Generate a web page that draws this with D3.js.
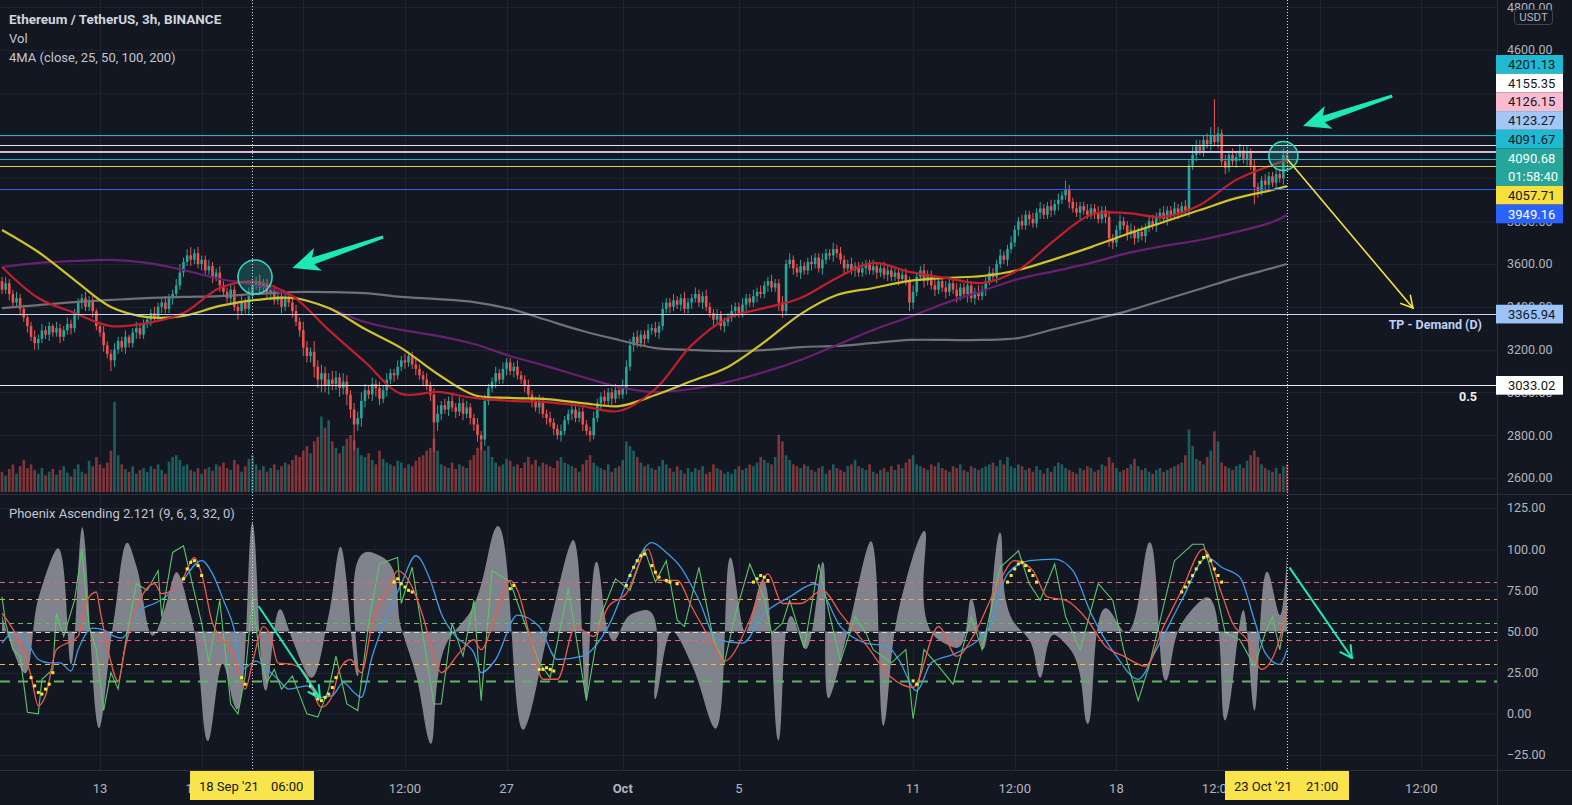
<!DOCTYPE html>
<html>
<head>
<meta charset="utf-8">
<script src="https://cdn.jsdelivr.net/npm/d3@7"></script>
<style>
body { margin: 0; background: #131722; }
text { font-family: Roboto, "Noto Sans", sans-serif; }
</style>
</head>
<body>
<svg width="1572" height="805"></svg>
<script>
// ---- data (3h candles, first bar 9 Sep 2021 15:00 UTC) ----
var startTime = "2021-09-09T15:00";
var firstOpen = 3520;
var closes = [
3480,3510,3460,3420,3440,3390,3350,3310,3260,3230,
3250,3290,3270,3310,3280,3300,3260,3290,3320,3300,
3360,3420,3440,3400,3430,3380,3310,3280,3220,3180,
3150,3200,3240,3210,3260,3230,3280,3300,3270,3320,
3340,3370,3350,3400,3420,3390,3440,3460,3500,3560,
3610,3640,3620,3650,3600,3620,3570,3590,3540,3560,
3500,3470,3440,3480,3400,3380,3420,3390,3450,3500,
3520,3490,3510,3460,3480,3430,3450,3400,3440,3420,
3380,3330,3290,3210,3170,3190,3120,3060,3090,3030,
3060,3040,3070,3020,3050,2990,2920,2850,2880,2960,
3010,2990,3040,3020,2970,3010,3060,3090,3080,3120,
3150,3140,3170,3130,3110,3080,3060,3030,2990,2860,
2900,2940,2920,2960,2930,2910,2950,2900,2930,2880,
2850,2800,2780,2960,3020,3050,3090,3060,3110,3140,
3100,3120,3080,3060,3030,2990,2960,2930,2960,2900,
2880,2860,2830,2800,2820,2870,2900,2920,2880,2910,
2850,2820,2800,2880,2950,2980,2960,3000,2970,3010,
2990,3020,3120,3220,3260,3230,3270,3250,3290,3300,
3280,3310,3390,3420,3400,3430,3410,3440,3390,3420,
3440,3460,3420,3450,3400,3370,3340,3360,3310,3330,
3350,3380,3400,3370,3410,3440,3420,3450,3470,3460,
3500,3520,3490,3510,3420,3380,3600,3620,3580,3560,
3590,3570,3610,3600,3630,3580,3620,3650,3640,3670,
3650,3620,3580,3600,3570,3590,3560,3580,3600,3570,
3590,3560,3580,3550,3570,3540,3560,3530,3550,3520,
3420,3470,3540,3570,3520,3550,3500,3480,3520,3490,
3470,3510,3480,3450,3490,3460,3500,3440,3470,3450,
3480,3520,3560,3540,3600,3640,3620,3670,3700,3760,
3800,3780,3830,3810,3790,3840,3860,3830,3870,3850,
3880,3900,3920,3950,3890,3860,3840,3870,3850,3830,
3860,3840,3810,3850,3820,3720,3700,3760,3800,3780,
3740,3760,3720,3750,3730,3770,3800,3780,3820,3840,
3810,3850,3830,3860,3840,3870,3850,4060,4110,4150,
4130,4180,4160,4200,4170,4210,4080,4050,4110,4080,
4100,4130,4090,4120,4060,3960,3940,3990,3970,4010,
3980,4020,4000,4110,4090];
// upper / lower wick length, in tens of USDT
var hiW = [
2,3,2,2,3,2,2,1,2,3, 2,3,2,2,1,3,2,2,3,2, 3,2,2,3,2,2,1,2,3,2, 2,3,2,2,3,1,2,3,2,2,
2,2,3,2,2,3,2,2,3,4, 2,3,4,2,3,2,2,3,2,2, 3,2,2,3,2,2,3,2,4,3, 2,3,2,2,3,2,2,3,2,2,
2,3,2,4,3,2,5,3,4,3, 3,4,3,2,4,3,2,3,3,4, 3,2,3,2,3,2,3,2,2,3, 2,3,2,2,3,2,2,3,2,3,
4,2,3,2,3,2,3,2,3,2, 2,3,2,3,2,2,3,2,3,2, 2,2,3,2,2,3,2,2,3,2, 2,3,2,2,3,2,2,3,2,2,
3,2,2,3,2,2,3,2,2,3, 2,4,3,3,2,3,2,2,3,2, 3,2,3,2,2,3,2,2,3,2, 2,3,2,2,3,2,2,3,2,2,
2,3,2,2,3,2,2,3,2,3, 2,2,3,2,2,3,2,3,2,2, 3,2,2,3,2,2,3,2,2,3, 2,3,2,2,3,2,2,3,2,2,
3,2,2,3,2,2,3,2,2,3, 2,3,2,2,3,2,2,3,2,2, 3,2,2,3,2,2,3,2,2,3, 2,2,3,2,2,3,2,2,3,2,
2,3,2,2,3,2,3,2,2,3, 2,3,2,4,2,2,3,2,2,3, 2,2,3,2,2,3,2,2,3,2, 2,3,2,2,3,2,2,3,2,2,
3,2,2,3,2,2,3,3,4,3, 3,2,3,4,17,3,2,3,2,3, 2,3,2,3,2,3,2,2,3,2, 2,3,2,3,2];
var loW = [
2,2,3,2,2,3,2,3,2,3, 3,2,2,3,2,2,3,2,2,3, 2,2,3,2,2,3,2,2,3,2, 5,3,2,2,3,2,2,3,2,2,
2,3,2,2,3,2,2,3,2,2, 2,2,3,2,2,3,2,2,3,2, 3,2,2,3,2,4,2,2,3,2, 2,3,2,2,3,2,2,3,2,2,
3,2,3,4,3,3,5,4,6,3, 4,3,3,4,3,5,4,12,3,4, 3,2,3,4,3,2,3,2,3,2, 2,3,2,2,3,2,3,2,3,14,
4,3,2,3,2,3,2,3,2,3, 3,3,5,3,2,2,3,2,2,3, 2,3,2,2,3,2,3,2,3,2, 3,2,3,2,3,2,2,3,2,2,
3,2,3,2,2,3,2,2,3,2, 2,2,3,2,3,2,2,3,2,2, 2,3,2,2,3,2,2,3,2,2, 3,2,2,3,2,2,3,2,2,3,
2,2,3,2,2,3,2,2,3,2, 2,3,2,2,4,3,2,2,3,2, 3,2,2,3,2,2,3,2,2,3, 2,2,3,2,2,3,2,2,3,2,
2,3,2,2,3,2,2,3,2,2, 4,3,2,2,3,2,2,3,2,2, 3,2,2,3,2,2,4,2,3,2, 2,3,2,2,3,2,2,3,2,2,
3,2,2,3,2,2,3,2,2,3, 2,3,2,2,3,2,2,3,2,2, 2,3,2,2,3,4,3,2,3,2, 3,2,3,2,2,3,2,2,3,2,
2,3,2,2,3,2,2,3,2,3, 2,3,2,3,2,3,2,3,2,2, 3,2,2,3,2,8,3,2,3,2, 2,3,2,3,2];
var vols = [
22,18,25,30,20,28,35,26,30,24, 20,26,18,22,25,19,24,28,21,17, 25,30,22,20,34,28,38,30,26,32,
45,98,40,30,25,22,28,20,24,26, 22,28,25,30,24,20,33,38,40,35, 28,30,24,22,26,20,25,27,23,30,
28,32,26,24,35,30,22,28,36,40, 30,24,28,22,26,30,24,28,32,30, 35,40,38,45,50,42,55,60,82,70,
78,55,48,42,50,58,62,56,48,40, 38,42,35,30,45,36,32,30,28,34, 32,26,30,28,34,38,40,45,48,58,
45,30,28,26,32,25,30,28,26,35, 40,48,55,45,50,38,32,28,30,36, 34,28,30,26,32,38,30,35,28,32,
30,28,26,34,38,32,30,28,26,22, 30,35,40,32,28,26,24,30,22,26, 28,35,55,50,45,38,32,28,30,26,
24,28,35,30,26,22,28,24,20,26, 22,26,24,28,20,22,30,26,24,20, 22,20,25,28,24,26,30,28,32,38,
35,32,30,38,62,55,40,35,30,28, 26,30,28,24,22,26,28,20,24,30, 26,24,22,28,30,35,28,26,24,30,
22,20,24,26,22,28,24,30,26,32, 36,40,30,28,26,24,30,28,32,26, 24,22,28,26,30,24,22,28,26,24,
26,28,30,32,28,35,30,38,28,26, 30,28,24,26,22,28,24,20,26,22, 28,32,30,26,24,22,20,26,24,28,
26,22,24,30,28,38,32,26,22,24, 26,30,36,28,24,26,22,20,24,26, 22,24,26,28,30,32,40,68,50,36,
34,30,38,45,66,55,32,28,26,24, 28,30,26,34,40,45,38,30,26,24, 22,26,20,28,30];

// moving averages, read every 10th bar (last at bar 354)
var maIdx = [0,10,20,30,40,50,60,70,80,90,100,110,120,130,140,150,160,170,180,190,200,210,220,230,240,250,260,270,280,290,300,310,320,330,340,350,354];
var ma25 = [3586,3441,3371,3310,3324,3371,3488,3516,3450,3292,3142,2993,3002,2974,2960,2955,2936,2913,3016,3221,3348,3394,3441,3535,3605,3563,3535,3511,3572,3712,3830,3838,3820,3876,3993,4063,4086];
var ma50 = [3759,3656,3525,3399,3352,3357,3404,3432,3441,3394,3296,3207,3086,2988,2974,2969,2950,2936,2988,3053,3119,3235,3366,3455,3488,3521,3535,3544,3572,3623,3679,3740,3796,3852,3908,3946,3964];
var ma100 = [3586,3605,3614,3619,3605,3572,3530,3502,3450,3394,3329,3292,3264,3226,3170,3123,3072,3025,3002,3016,3049,3095,3151,3221,3292,3352,3418,3474,3530,3567,3605,3651,3684,3712,3750,3796,3829];
var ma200 = [3394,3408,3422,3432,3441,3446,3450,3460,3469,3469,3464,3446,3436,3422,3390,3338,3287,3245,3207,3198,3193,3198,3212,3217,3231,3245,3245,3245,3254,3296,3338,3380,3432,3483,3535,3581,3600];

// horizontal levels drawn on the chart
var levelPrices = [4201.13, 4155.35, 4126.15, 4123.27, 4091.67, 4057.71, 3949.16, 3365.94, 3033.02];
var lastPrice = 4090.68, countdown = "01:58:40";

// oscillator: [bar, value] turning points
var grayPts = [[0,60],[2,45],[6,25],[10,70],[15,100],[19,30],[22,113],[27,-8],[31,60],[35,103],[37,90],[42,48],[45,65],[48,86],[52,60],[57,-16],[61,30],[64,5],[69,116],[73,15],[77,63],[80,45],[85,22],[90,60],[93,101],[98,23],[102,98],[105,95],[110,52],[114,24],[118,-18],[123,45],[129,62],[136,113],[144,-9],[151,55],[157,105],[161,9],[164,92],[169,45],[173,60],[177,63],[180,9],[185,50],[190,30],[196,-8],[201,94],[205,50],[209,80],[214,-16],[218,58],[221,40],[226,92],[228,10],[233,50],[239,104],[243,-7],[247,63],[254,111],[258,45],[263,40],[267,70],[270,40],[275,110],[279,55],[283,45],[286,22],[290,48],[294,40],[299,-6],[305,63],[309,50],[316,104],[321,21],[325,55],[331,70],[337,-4],[342,63],[345,2],[349,85],[352,60],[354,96]];
var greenPts = [[0,71],[1,55],[3,39],[5,35],[7,1],[10,0],[11,21],[14,27],[15,61],[17,47],[20,69],[22,100],[24,53],[26,39],[28,2],[30,25],[32,15],[34,43],[37,79],[40,75],[43,87],[44,59],[47,98],[50,102],[52,83],[55,55],[57,31],[60,69],[63,6],[65,0],[67,23],[69,71],[71,35],[73,19],[75,27],[77,15],[80,23],[84,0],[87,-2],[90,15],[92,35],[95,6],[98,2],[101,55],[104,91],[109,95],[110,67],[113,89],[116,47],[119,6],[121,6],[124,55],[127,35],[130,69],[132,8],[135,87],[140,80],[144,55],[148,31],[151,22],[156,76],[161,8],[165,60],[169,82],[173,75],[177,100],[180,80],[183,93],[186,57],[188,53],[192,89],[196,45],[199,31],[202,60],[206,91],[210,70],[212,49],[215,55],[217,69],[221,40],[225,91],[228,60],[231,32],[235,59],[238,49],[240,39],[245,31],[249,39],[251,-3],[254,39],[258,29],[262,18],[267,59],[270,39],[275,89],[280,99],[283,79],[286,69],[290,91],[293,59],[297,39],[302,79],[306,69],[309,39],[313,8],[316,29],[323,93],[328,103],[331,103],[334,79],[337,49],[341,45],[345,29],[348,49],[350,59],[352,39],[354,65]];
var redPts = [[0,61],[2,55],[5,43],[8,23],[10,5],[12,11],[15,39],[18,43],[21,47],[23,67],[26,74],[27,63],[29,41],[32,20],[34,41],[38,69],[42,79],[44,73],[47,75],[50,83],[53,95],[55,85],[58,55],[60,47],[64,35],[67,15],[69,31],[72,53],[74,47],[76,31],[80,30],[84,23],[88,4],[91,11],[93,27],[96,33],[99,25],[102,55],[107,79],[109,87],[112,81],[116,59],[119,35],[121,25],[126,37],[130,45],[132,39],[136,60],[140,81],[142,75],[146,42],[149,21],[153,21],[158,53],[163,47],[167,65],[172,73],[178,100],[181,81],[186,81],[190,65],[196,42],[199,32],[206,57],[211,85],[215,67],[220,67],[226,75],[231,61],[238,42],[245,22],[251,16],[258,53],[263,35],[268,49],[274,77],[279,93],[284,87],[288,71],[293,69],[299,57],[304,41],[309,35],[315,29],[320,53],[325,75],[331,100],[336,73],[339,55],[343,45],[347,27],[351,39],[354,63]];
var bluePts = [[0,43],[3,49],[7,43],[10,33],[13,31],[16,31],[19,26],[21,39],[25,52],[28,51],[31,47],[33,46],[36,55],[38,63],[42,67],[45,71],[49,79],[55,93],[58,85],[61,69],[64,51],[66,27],[70,32],[73,27],[76,21],[79,15],[84,17],[88,10],[91,11],[94,19],[97,13],[99,10],[102,35],[106,59],[110,79],[114,96],[118,81],[121,61],[125,47],[130,37],[132,25],[136,33],[142,60],[148,53],[153,33],[160,35],[167,53],[174,89],[179,104],[183,98],[187,89],[192,69],[197,45],[204,43],[210,61],[217,71],[224,79],[231,53],[238,43],[244,41],[247,33],[252,14],[256,31],[263,37],[272,53],[277,85],[283,93],[290,94],[295,87],[300,61],[307,35],[313,21],[318,39],[325,69],[332,95],[336,89],[341,83],[345,57],[348,37],[352,30],[354,39]];
var dotPts = [[8,22],[9,17],[10,13],[11,12],[12,15],[13,18],[14,25],[50,82],[51,88],[52,92],[53,93],[54,90],[55,84],[66,22],[67,18],[85,17],[86,12],[87,9],[88,8],[89,10],[90,12],[91,16],[92,22],[108,80],[109,82],[110,79],[111,77],[112,75],[113,74],[140,76],[141,78],[148,27],[149,27],[150,28],[151,27],[152,26],[172,78],[173,84],[174,89],[175,93],[176,96],[177,97],[179,90],[180,86],[181,83],[183,81],[184,80],[186,79],[207,80],[208,82],[209,84],[210,83],[211,81],[251,20],[252,18],[277,80],[278,84],[279,88],[280,91],[281,92],[282,90],[283,87],[284,84],[285,80],[325,74],[326,77],[327,80],[328,84],[329,88],[330,92],[331,95],[332,96],[333,93],[334,88],[335,84],[336,80]];
var oscLevels = [80, 70, 55, 50, 45, 30, 20];

// axes
var priceTicks = [2600, 2800, 3000, 3200, 3400, 3600, 3800, 4800, 4600];
var oscTicks = [-25, 0, 25, 50, 75, 100, 125];
var gridPrices = [2600, 2800, 3000, 3200, 3400, 3600, 3800, 4000, 4200, 4400, 4600, 4800];
var timeTicks = ["2021-09-13T00:00","2021-09-16T12:00","2021-09-20T00:00","2021-09-23T12:00","2021-09-27T00:00","2021-10-01T00:00","2021-10-05T00:00","2021-10-11T00:00","2021-10-14T12:00","2021-10-18T00:00","2021-10-21T12:00","2021-10-25T00:00","2021-10-28T12:00"];
var timeLabels = ["13","12:00","","12:00","27","Oct","5","11","12:00","18","12:00","","12:00"];
var crossTimes = ["2021-09-18T06:00", "2021-10-23T21:00"];
var crossLabels = [["18 Sep '21", "06:00"], ["23 Oct '21", "21:00"]];

// drawings, anchored at [bar, price] / [bar, osc value]
var bigArrows = [[[105, 3726], [80, 3581]], [[383, 4385], [358.4, 4245]]];
var circles = [[[69.7, 3539], [74.4, 3539]], [[353, 4105], [357, 4105]]];
var tpArrow = [[354.3, 4086], [388.7, 3394]];
var oscArrows = [[[70.8, 65], [87.6, 9.6]], [[354.8, 88.5], [371.9, 33.9]]];

// ---- layout ----
var svg = d3.select("svg"),
  width = +svg.attr("width"),
  height = +svg.attr("height");
var plotR = 1497, paneB = 494, oscT = 495, axisY = 770;
var up = "#26a69a", down = "#ef5350";

var barTime = function (t) { return (Date.parse(t + "Z") - Date.parse(startTime + "Z")) / (3 * 3600e3); };

var x = d3.scaleLinear().domain([0, 354]).range([2, 1287]);
var y = d3.scaleLinear().domain([2600, 4600]).range([478, 50]);
var yv = d3.scaleLinear().domain([0, 100]).range([492, 400]);
var yo = d3.scaleLinear().domain([-25, 125]).range([755, 508]);

svg.append("rect").attr("width", width).attr("height", height).attr("fill", "#131722");

var defs = svg.append("defs");
defs.append("clipPath").attr("id", "cp").append("rect")
  .attr("x", 0).attr("y", 0).attr("width", plotR).attr("height", paneB);
defs.append("clipPath").attr("id", "co").append("rect")
  .attr("x", 0).attr("y", oscT).attr("width", plotR).attr("height", axisY - oscT);

// grid
var grid = svg.append("g").attr("stroke", "#1f2330").attr("stroke-width", 1);
gridPrices.forEach(function (p) {
  grid.append("line").attr("x1", 0).attr("x2", plotR).attr("y1", Math.round(y(p)) + 0.5).attr("y2", Math.round(y(p)) + 0.5);
});
oscTicks.forEach(function (v) {
  grid.append("line").attr("x1", 0).attr("x2", plotR).attr("y1", Math.round(yo(v)) + 0.5).attr("y2", Math.round(yo(v)) + 0.5);
});
timeTicks.forEach(function (t) {
  var xx = Math.round(x(barTime(t))) + 0.5;
  grid.append("line").attr("x1", xx).attr("x2", xx).attr("y1", 0).attr("y2", axisY);
});

// ---- price pane ----
var candles = closes.map(function (c, i) {
  var o = i ? closes[i - 1] : firstOpen;
  return { i: i, o: o, c: c,
    h: Math.max(o, c) + (hiW[i] || 2) * 10,
    l: Math.min(o, c) - (loW[i] || 2) * 10,
    v: vols[i] || 20 };
});

var pane = svg.append("g").attr("clip-path", "url(#cp)");

pane.selectAll(".vol").data(candles).join("rect")
  .attr("x", function (d) { return x(d.i) - 1.3; })
  .attr("width", 2.6)
  .attr("y", function (d) { return yv(d.v); })
  .attr("height", function (d) { return yv(0) - yv(d.v); })
  .attr("fill", function (d) { return d.c >= d.o ? "rgba(38,166,154,0.5)" : "rgba(239,83,80,0.5)"; });

pane.selectAll(".wick").data(candles).join("line")
  .attr("x1", function (d) { return x(d.i); })
  .attr("x2", function (d) { return x(d.i); })
  .attr("y1", function (d) { return y(d.h); })
  .attr("y2", function (d) { return y(d.l); })
  .attr("stroke", function (d) { return d.c >= d.o ? up : down; })
  .attr("stroke-width", 1);

pane.selectAll(".body").data(candles).join("rect")
  .attr("x", function (d) { return x(d.i) - 1.3; })
  .attr("width", 2.6)
  .attr("y", function (d) { return y(Math.max(d.o, d.c)); })
  .attr("height", function (d) { return Math.max(1, Math.abs(y(d.o) - y(d.c))); })
  .attr("fill", function (d) { return d.c >= d.o ? up : down; });

var maLine = d3.line()
  .x(function (d, k) { return x(maIdx[k]); })
  .y(function (d) { return y(d); })
  .curve(d3.curveCatmullRom.alpha(0.5));
[[ma200, "#707075"], [ma100, "#6a2070"], [ma50, "#cfc22a"], [ma25, "#c0202c"]].forEach(function (m) {
  pane.append("path").attr("d", maLine(m[0])).attr("fill", "none")
    .attr("stroke", m[1]).attr("stroke-width", 2.2);
});

// horizontal levels
var levelLine = ["#1fb5c9", "#e6e8ee", "#f3b3c8", "#a8c8f0", "#1fb5c9", "#e0d23a", "#2962ff", "#c4d6f2", "#e6e8ee"];
levelPrices.forEach(function (p, k) {
  var yy = Math.round(y(p)) + 0.5;
  pane.append("line").attr("x1", 0).attr("x2", plotR).attr("y1", yy).attr("y2", yy)
    .attr("stroke", levelLine[k]).attr("stroke-width", 1);
});

// circles
circles.forEach(function (c) {
  var cx = x(c[0][0]), cy = y(c[0][1]);
  var r = Math.hypot(x(c[1][0]) - cx, y(c[1][1]) - cy);
  pane.append("circle").attr("cx", cx).attr("cy", cy).attr("r", r)
    .attr("fill", "rgba(38,166,154,0.3)").attr("stroke", "#3fd6bd").attr("stroke-width", 1.5);
});

// thick teal arrows
function arrowShape(x1, y1, x2, y2) {
  var dx = x2 - x1, dy = y2 - y1, len = Math.hypot(dx, dy);
  var ux = dx / len, uy = dy / len, nx = -uy, ny = ux;
  var hl = 22, bx = x2 - ux * hl, by = y2 - uy * hl;
  var bbx = x2 - ux * (hl + 5), bby = y2 - uy * (hl + 5);
  var pts = [
    [x1 + nx * 1.5, y1 + ny * 1.5], [bx + nx * 3.5, by + ny * 3.5], [bbx + nx * 12, bby + ny * 12],
    [x2, y2],
    [bbx - nx * 12, bby - ny * 12], [bx - nx * 3.5, by - ny * 3.5], [x1 - nx * 1.5, y1 - ny * 1.5]
  ];
  return "M" + pts.map(function (p) { return p[0].toFixed(1) + "," + p[1].toFixed(1); }).join("L") + "Z";
}
bigArrows.forEach(function (a) {
  svg.append("path").attr("d", arrowShape(x(a[0][0]), y(a[0][1]), x(a[1][0]), y(a[1][1])))
    .attr("fill", "#1de9b6");
});

function lineArrow(g, x1, y1, x2, y2, color, w) {
  g.append("line").attr("x1", x1).attr("y1", y1).attr("x2", x2).attr("y2", y2)
    .attr("stroke", color).attr("stroke-width", w).attr("stroke-linecap", "round");
  var a = Math.atan2(y2 - y1, x2 - x1), hl = 13;
  [-0.5, 0.5].forEach(function (s) {
    g.append("line").attr("x1", x2).attr("y1", y2)
      .attr("x2", x2 - hl * Math.cos(a + s)).attr("y2", y2 - hl * Math.sin(a + s))
      .attr("stroke", color).attr("stroke-width", w).attr("stroke-linecap", "round");
  });
}
lineArrow(svg, x(tpArrow[0][0]), y(tpArrow[0][1]), x(tpArrow[1][0]), y(tpArrow[1][1]), "#f2e23c", 1.6);

svg.append("text").attr("x", 1482).attr("y", 329).attr("text-anchor", "end")
  .attr("font-size", 12.5).attr("font-weight", "bold").attr("fill", "#b9d2f7").text("TP - Demand (D)");
svg.append("text").attr("x", 1477).attr("y", 401).attr("text-anchor", "end")
  .attr("font-size", 12.5).attr("font-weight", "bold").attr("fill", "#f0f0f0").text("0.5");

// ---- oscillator pane ----
var osc = svg.append("g").attr("clip-path", "url(#co)");
var ox = function (d) { return x(d[0]); }, oy = function (d) { return yo(d[1]); };

osc.append("path")
  .attr("d", d3.area().x(ox).y0(yo(50)).y1(oy).curve(d3.curveCatmullRom.alpha(1))(grayPts))
  .attr("fill", "rgba(170,173,182,0.72)");

var lvlColor = ["#e8637a", "#e9a93c", "#66b96a", "#d1d4dc", "#e8637a", "#e9c03c", "#5cb85c"];
oscLevels.forEach(function (v, k) {
  var last = k === oscLevels.length - 1;
  osc.append("line").attr("x1", 0).attr("x2", plotR)
    .attr("y1", Math.round(yo(v)) + 0.5).attr("y2", Math.round(yo(v)) + 0.5)
    .attr("stroke", lvlColor[k]).attr("stroke-width", last ? 2 : 1)
    .attr("stroke-dasharray", last ? "10,8" : "5,4");
});

osc.append("path").attr("d", d3.line().x(ox).y(oy).curve(d3.curveMonotoneX)(bluePts))
  .attr("fill", "none").attr("stroke", "#3d9be9").attr("stroke-width", 1.3);
osc.append("path").attr("d", d3.line().x(ox).y(oy)(greenPts))
  .attr("fill", "none").attr("stroke", "#5cc46a").attr("stroke-width", 1.1);
osc.append("path").attr("d", d3.line().x(ox).y(oy).curve(d3.curveMonotoneX)(redPts))
  .attr("fill", "none").attr("stroke", "#f0584f").attr("stroke-width", 1.3);

osc.selectAll(".dot").data(dotPts).join("rect")
  .attr("x", function (d) { return x(d[0]) - 1.5; })
  .attr("y", function (d) { return yo(d[1]) - 1.5; })
  .attr("width", 3).attr("height", 3).attr("fill", "#f5ea3b");

oscArrows.forEach(function (a) {
  lineArrow(osc, x(a[0][0]), yo(a[0][1]), x(a[1][0]), yo(a[1][1]), "#1de9b6", 2);
});

// ---- frame ----
var frame = svg.append("g").attr("stroke", "#2a2e39").attr("stroke-width", 1);
frame.append("line").attr("x1", 0).attr("x2", width).attr("y1", paneB + 0.5).attr("y2", paneB + 0.5);
frame.append("line").attr("x1", 0).attr("x2", width).attr("y1", axisY + 0.5).attr("y2", axisY + 0.5);
frame.append("line").attr("x1", plotR + 0.5).attr("x2", plotR + 0.5).attr("y1", 0).attr("y2", height);

// crosshair-like dotted verticals
crossTimes.forEach(function (t) {
  var xx = Math.round(x(barTime(t))) + 0.5;
  svg.append("line").attr("x1", xx).attr("x2", xx).attr("y1", 0).attr("y2", axisY)
    .attr("stroke", "#d8dae0").attr("stroke-width", 1).attr("stroke-dasharray", "1,2");
});

// ---- legends ----
svg.append("text").attr("x", 9).attr("y", 24).attr("font-size", 13.5).attr("font-weight", "bold")
  .attr("fill", "#d1d4dc").text("Ethereum / TetherUS, 3h, BINANCE");
svg.append("text").attr("x", 9).attr("y", 43).attr("font-size", 13).attr("fill", "#c3c6ce").text("Vol");
svg.append("text").attr("x", 9).attr("y", 62).attr("font-size", 13).attr("fill", "#c3c6ce").text("4MA (close, 25, 50, 100, 200)");
svg.append("text").attr("x", 9).attr("y", 518).attr("font-size", 13).attr("fill", "#c3c6ce").text("Phoenix Ascending 2.121 (9, 6, 3, 32, 0)");

// ---- price axis ----
var axisG = svg.append("g").attr("font-size", 12.5).attr("fill", "#b2b5be");
priceTicks.forEach(function (p) {
  axisG.append("text").attr("x", 1507).attr("y", y(p)).attr("dy", "0.35em").text(p.toFixed(2));
});
oscTicks.forEach(function (v) {
  axisG.append("text").attr("x", 1507).attr("y", yo(v)).attr("dy", "0.35em")
    .text((v < 0 ? "\u2212" : "") + Math.abs(v).toFixed(2));
});

// USDT badge
svg.append("rect").attr("x", 1514.5).attr("y", 9.5).attr("width", 38).attr("height", 15).attr("rx", 3)
  .attr("fill", "#131722").attr("stroke", "#434651");
svg.append("text").attr("x", 1533.5).attr("y", 21).attr("text-anchor", "middle")
  .attr("font-size", 11.5).attr("fill", "#b2b5be").text("USDT");

// price labels
var labelBg = ["#1fbad0", "#ffffff", "#f8bbd0", "#a3c7f4", "#1fbad0", "#f7e03c", "#2962ff", "#9cc3f6", "#ffffff"];
var labelFg = ["#131722", "#131722", "#131722", "#131722", "#131722", "#131722", "#ffffff", "#131722", "#131722"];
var cluster = [];
levelPrices.forEach(function (p, k) {
  cluster.push({ p: p, bg: labelBg[k], fg: labelFg[k], lines: [p.toFixed(2)] });
});
cluster.push({ p: lastPrice, bg: "#26a69a", fg: "#ffffff", lines: [lastPrice.toFixed(2), countdown] });
cluster.sort(function (a, b) { return b.p - a.p; });

var stackTop = 55, rowH = 18.7;
cluster.forEach(function (c) {
  var h = rowH * c.lines.length;
  var top;
  if (c.p > 3900) { top = stackTop; stackTop += h; }
  else { top = y(c.p) - h / 2; }
  svg.append("rect").attr("x", 1496).attr("y", top).attr("width", 67).attr("height", h).attr("fill", c.bg);
  c.lines.forEach(function (t, k) {
    svg.append("text").attr("x", 1508).attr("y", top + rowH * k + rowH / 2).attr("dy", "0.36em")
      .attr("font-size", 13).attr("fill", c.fg).text(t);
  });
});

// ---- time axis ----
var timeG = svg.append("g").attr("font-size", 13).attr("fill", "#b2b5be").attr("text-anchor", "middle");
timeTicks.forEach(function (t, k) {
  if (!timeLabels[k]) return;
  timeG.append("text").attr("x", x(barTime(t))).attr("y", 793)
    .attr("font-weight", timeLabels[k] === "Oct" ? "bold" : "normal").text(timeLabels[k]);
});
crossTimes.forEach(function (t, k) {
  var xc = Math.round(x(barTime(t)));
  svg.append("rect").attr("x", xc - 62).attr("y", 771).attr("width", 124).attr("height", 29)
    .attr("fill", "#f9e44c");
  svg.append("text").attr("x", xc - 53).attr("y", 791).attr("font-size", 13).attr("fill", "#131722").text(crossLabels[k][0]);
  svg.append("text").attr("x", xc + 19).attr("y", 791).attr("font-size", 13).attr("fill", "#131722").text(crossLabels[k][1]);
});
</script>
</body>
</html>
